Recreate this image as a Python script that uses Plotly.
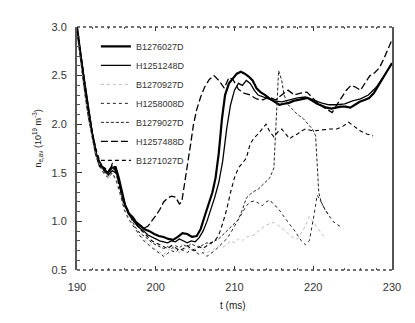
import plotly.graph_objects as go

# density traces, (time ms, n_e 10^19 m^-3)
shot_b1 = [(190, 3.0), (190.3, 2.8), (190.7, 2.55), (191.1, 2.3), (191.5, 2.08), (192, 1.85), (192.4, 1.7),
           (192.9, 1.57), (193.4, 1.53), (193.9, 1.5), (194.4, 1.55), (194.9, 1.56), (195.3, 1.45), (195.7, 1.3),
           (196.1, 1.17), (196.6, 1.08), (197.1, 1.04), (197.6, 0.98), (198.1, 0.95), (198.6, 0.92), (199.2, 0.9),
           (199.8, 0.87), (200.4, 0.85), (201, 0.84), (201.6, 0.82), (202.2, 0.81), (202.8, 0.84), (203.4, 0.88),
           (204, 0.87), (204.6, 0.84), (205.2, 0.85), (205.7, 0.92), (206.2, 1.05), (206.7, 1.18), (207.2, 1.3),
           (207.6, 1.45), (208, 1.7), (208.4, 2.05), (208.8, 2.3), (209.3, 2.42), (209.8, 2.47), (210.3, 2.52),
           (210.8, 2.54), (211.3, 2.52), (211.8, 2.49), (212.3, 2.45), (212.8, 2.37), (213.3, 2.33), (213.9, 2.3),
           (214.5, 2.26), (215.1, 2.23), (215.7, 2.2), (216.3, 2.21), (216.9, 2.22), (217.5, 2.24), (218.1, 2.25),
           (218.7, 2.26), (219.3, 2.27), (219.9, 2.24), (220.5, 2.21), (221.1, 2.19), (221.7, 2.17), (222.3, 2.16),
           (222.9, 2.17), (223.5, 2.18), (224.1, 2.18), (224.7, 2.17), (225.3, 2.2), (225.9, 2.23), (226.5, 2.25),
           (227.1, 2.27), (227.7, 2.32), (228.3, 2.4), (228.9, 2.47), (229.5, 2.55), (230, 2.63)]

shot_h2 = [(190, 2.98), (190.5, 2.7), (191, 2.4), (191.5, 2.12), (192, 1.88), (192.5, 1.68), (193, 1.57),
           (193.5, 1.52), (194, 1.48), (194.5, 1.52), (195, 1.5), (195.5, 1.35), (196, 1.2), (196.5, 1.08),
           (197, 1.02), (197.5, 0.97), (198, 0.93), (198.5, 0.9), (199, 0.86), (199.5, 0.84), (200, 0.82),
           (200.5, 0.8), (201, 0.79), (201.5, 0.78), (202, 0.8), (202.5, 0.79), (203, 0.82), (203.5, 0.8),
           (204, 0.78), (204.5, 0.8), (205, 0.79), (205.5, 0.83), (206, 0.9), (206.5, 1.0), (207, 1.12),
           (207.5, 1.25), (208, 1.4), (208.5, 1.62), (209, 1.95), (209.5, 2.2), (210, 2.35), (210.5, 2.42),
           (211, 2.4), (211.5, 2.45), (212, 2.42), (212.5, 2.35), (213, 2.3), (214, 2.27), (215, 2.24),
           (216, 2.23), (217, 2.25), (218, 2.27), (219, 2.28), (220, 2.25), (221, 2.22), (222, 2.2), (223, 2.2),
           (224, 2.21), (225, 2.24), (226, 2.26), (227, 2.3), (228, 2.38), (229, 2.5), (230, 2.62)]

shot_b3 = [(190, 2.95), (190.5, 2.6), (191, 2.3), (191.5, 2.05), (192, 1.82), (192.5, 1.65), (193, 1.56),
           (193.5, 1.5), (194, 1.46), (194.5, 1.48), (195, 1.4), (195.5, 1.26), (196, 1.13), (196.5, 1.05),
           (197, 0.98), (197.5, 0.92), (198, 0.86), (198.5, 0.82), (199, 0.78), (199.5, 0.74), (200, 0.71),
           (200.5, 0.69), (201, 0.66), (201.5, 0.7), (202, 0.73), (202.5, 0.71), (203, 0.68), (203.5, 0.71),
           (204, 0.73), (204.5, 0.7), (205, 0.72), (205.5, 0.75), (206, 0.71), (206.5, 0.68), (207, 0.7),
           (207.5, 0.72), (208, 0.75), (208.5, 0.73), (209, 0.76), (209.5, 0.8), (210, 0.78), (210.5, 0.82),
           (211, 0.8), (211.5, 0.84), (212, 0.85), (212.5, 0.86), (213, 0.9), (213.5, 0.93), (214, 0.96),
           (214.5, 0.98), (215, 0.99), (215.5, 0.96), (216, 0.93), (216.5, 0.9), (217, 0.86), (217.5, 0.83),
           (218, 0.82), (218.5, 0.88), (219, 0.95), (219.5, 1.05), (220, 1.0), (220.5, 0.94), (221, 0.88),
           (221.5, 0.83)]

shot_h4 = [(190, 2.97), (190.5, 2.62), (191, 2.33), (191.5, 2.08), (192, 1.84), (192.5, 1.66), (193, 1.55),
           (193.5, 1.48), (194, 1.45), (194.5, 1.5), (195, 1.42), (195.5, 1.28), (196, 1.12), (196.5, 1.03),
           (197, 0.97), (197.5, 0.9), (198, 0.85), (198.5, 0.8), (199, 0.76), (199.5, 0.73), (200, 0.7),
           (200.5, 0.67), (201, 0.64), (201.5, 0.67), (202, 0.7), (202.5, 0.68), (203, 0.72), (203.5, 0.7),
           (204, 0.68), (204.5, 0.71), (205, 0.69), (205.5, 0.66), (206, 0.68), (206.5, 0.64), (207, 0.67),
           (207.5, 0.7), (208, 0.74), (208.5, 0.78), (209, 0.82), (209.5, 0.88), (210, 0.95), (210.5, 1.02),
           (211, 1.1), (211.5, 1.16), (212, 1.2), (212.5, 1.21), (213, 1.19), (213.5, 1.16), (214, 1.2),
           (214.5, 1.22), (215, 1.17), (215.5, 1.14), (216, 1.08), (216.5, 1.02), (217, 0.97), (217.5, 0.92),
           (218, 0.86), (218.5, 0.8), (219, 0.76), (219.5, 0.8), (220, 1.02), (220.5, 1.27), (221, 1.2),
           (221.5, 1.12), (222, 1.06), (222.5, 1.0), (223, 0.97), (223.4, 0.95)]

shot_b5 = [(190, 2.98), (190.5, 2.65), (191, 2.38), (191.5, 2.1), (192, 1.86), (192.5, 1.68), (193, 1.58),
           (193.5, 1.5), (194, 1.47), (194.5, 1.55), (195, 1.48), (195.5, 1.3), (196, 1.15), (196.5, 1.12),
           (197, 1.0), (197.5, 0.93), (198, 0.88), (198.5, 0.85), (199, 0.82), (199.5, 0.78), (200, 0.76),
           (200.5, 0.74), (201, 0.72), (201.5, 0.74), (202, 0.72), (202.5, 0.75), (203, 0.73), (203.5, 0.76),
           (204, 0.74), (204.5, 0.77), (205, 0.75), (205.5, 0.73), (206, 0.76), (206.5, 0.78), (207, 0.77),
           (207.5, 0.8), (208, 0.82), (208.5, 0.86), (209, 0.9), (209.5, 0.93), (210, 0.97), (210.5, 1.02),
           (211, 1.12), (211.5, 1.24), (212, 1.28), (212.5, 1.31), (213, 1.33), (213.5, 1.37), (214, 1.4),
           (214.5, 1.45), (215, 1.55), (215.2, 1.85), (215.4, 2.2), (215.6, 2.55), (216, 2.45), (216.3, 2.3),
           (216.8, 2.2), (217.4, 2.15), (218, 2.1), (218.7, 2.06), (219.3, 2.0), (219.9, 1.95), (220.3, 1.88),
           (220.5, 1.6), (220.7, 1.3), (221, 1.2), (221.5, 1.12), (222, 1.06)]

shot_h6 = [(190, 3.0), (190.4, 2.75), (190.8, 2.5), (191.2, 2.25), (191.6, 2.05), (192, 1.88), (192.5, 1.7),
           (193, 1.58), (193.5, 1.55), (194, 1.52), (194.5, 1.58), (195, 1.5), (195.5, 1.33), (196, 1.18),
           (196.5, 1.1), (197, 1.04), (197.5, 1.0), (198, 0.96), (198.5, 0.93), (199, 0.95), (199.5, 1.0),
           (200, 1.06), (200.5, 1.12), (201, 1.2), (201.5, 1.24), (202, 1.26), (202.5, 1.25), (203, 1.18),
           (203.3, 1.2), (203.6, 1.35), (204, 1.55), (204.4, 1.78), (204.8, 2.0), (205.2, 2.15), (205.7, 2.28),
           (206.2, 2.38), (206.8, 2.46), (207.4, 2.5), (208, 2.45), (208.7, 2.37), (209.3, 2.48), (209.8, 2.46),
           (210.5, 2.36), (211.2, 2.32), (212, 2.3), (212.8, 2.26), (213.6, 2.25), (214.4, 2.28), (215.2, 2.25),
           (216, 2.3), (216.8, 2.35), (217.6, 2.3), (218.4, 2.32), (219.2, 2.33), (220, 2.27), (220.8, 2.2),
           (221.6, 2.16), (222.4, 2.12), (223, 2.2), (223.6, 2.27), (224.2, 2.35), (224.8, 2.4), (225.4, 2.38),
           (226, 2.35), (226.6, 2.42), (227.2, 2.5), (227.8, 2.53), (228.4, 2.58), (229, 2.68), (229.5, 2.77),
           (230, 2.87)]

shot_b7 = [(190, 2.96), (190.5, 2.68), (191, 2.42), (191.5, 2.15), (192, 1.9), (192.5, 1.72), (193, 1.6),
           (193.5, 1.54), (194, 1.5), (194.5, 1.6), (195, 1.52), (195.5, 1.36), (196, 1.2), (196.5, 1.1),
           (197, 1.03), (197.5, 0.97), (198, 0.92), (198.5, 0.88), (199, 0.84), (199.5, 0.8), (200, 0.78),
           (200.5, 0.76), (201, 0.74), (201.5, 0.72), (202, 0.75), (202.5, 0.73), (203, 0.7), (203.5, 0.72),
           (204, 0.75), (204.5, 0.72), (205, 0.7), (205.5, 0.74), (206, 0.72), (206.5, 0.75), (207, 0.78),
           (207.5, 0.8), (208, 0.86), (208.5, 0.98), (209, 1.12), (209.5, 1.3), (210, 1.45), (210.5, 1.55),
           (211, 1.6), (211.5, 1.65), (212, 1.8), (212.5, 1.86), (213, 1.9), (213.5, 1.95), (214, 2.0),
           (214.5, 1.92), (215, 1.87), (215.5, 1.92), (216, 1.95), (216.5, 1.9), (217, 1.85), (217.5, 1.88),
           (218, 1.9), (218.5, 1.93), (219, 1.95), (219.5, 1.94), (220, 1.93), (221, 1.94), (222, 1.95),
           (223, 1.95), (223.8, 1.98), (224.5, 2.02), (225.2, 1.98), (226, 1.93), (226.8, 1.9), (227.6, 1.88)]

shot_names = ["B1276027D", "H1251248D", "B1270927D", "H1258008D", "B1279027D", "H1257488D", "B1271027D"]
x_ticks = [190, 200, 210, 220, 230]
y_ticks = [0.5, 1.0, 1.5, 2.0, 2.5, 3.0]

series = [shot_b1, shot_h2, shot_b3, shot_h4, shot_b5, shot_h6, shot_b7]
styles = [
    dict(color="black", width=2.2, dash="solid"),
    dict(color="black", width=1.3, dash="solid"),
    dict(color="#bbbbbb", width=1, dash="dot"),
    dict(color="#222222", width=1, dash="dot"),
    dict(color="#222222", width=1, dash="3px,2px"),
    dict(color="black", width=1.3, dash="7px,3px"),
    dict(color="black", width=1.1, dash="4px,3px"),
]

fig = go.Figure()
for name, pts, st in zip(shot_names, series, styles):
    fig.add_trace(go.Scatter(x=[p[0] for p in pts], y=[p[1] for p in pts], mode="lines",
                             name=name, line=st))

fig.update_xaxes(range=[190, 230], tickvals=x_ticks, ticks="inside", ticklen=4, tickcolor="#333",
                 showline=False, showgrid=False, zeroline=False, mirror="ticks", ticklabelstandoff=9,
                 minor=dict(ticks="inside", ticklen=2, dtick=2, tickcolor="#555"),
                 tickfont=dict(size=11, color="#333"))
fig.update_yaxes(range=[0.5, 3.0], tickvals=y_ticks, tickformat=".1f", ticks="inside", ticklen=5,
                 tickcolor="#333", showline=True, linecolor="#555", linewidth=2, mirror=True,
                 showgrid=False, zeroline=False, ticklabelstandoff=6,
                 minor=dict(ticks="inside", ticklen=3, dtick=0.1, tickcolor="#555"),
                 tickfont=dict(size=11, color="#333"))

# dotted top and bottom frame
for yy in (0, 1):
    fig.add_shape(type="line", xref="paper", yref="paper", x0=0, x1=1, y0=yy, y1=yy,
                  line=dict(color="#444", width=1.5, dash="dot"))

fig.add_annotation(text="t (ms)", xref="paper", yref="paper", x=0.495, y=-0.145, showarrow=False,
                   font=dict(size=10, color="#222"), yanchor="middle")
fig.add_annotation(text="n<sub>e,av</sub> (10<sup>19</sup> m<sup>-3</sup>)", xref="paper", yref="paper",
                   x=-0.125, y=0.54, xanchor="center", showarrow=False, textangle=-90,
                   font=dict(size=9, color="#222"))

fig.update_layout(
    width=415, height=323,
    margin=dict(l=77, r=23, t=27, b=53),
    paper_bgcolor="white", plot_bgcolor="white",
    font=dict(family="Liberation Sans, Arial, sans-serif"),
    showlegend=True,
    legend=dict(x=0.06, y=0.98, xanchor="left", yanchor="top", bgcolor="rgba(0,0,0,0)",
                font=dict(size=9, color="#333"), tracegroupgap=0),
)

fig.write_html("out.html", config={"displayModeBar": False},
               post_script="document.body.style.margin='0px';")
